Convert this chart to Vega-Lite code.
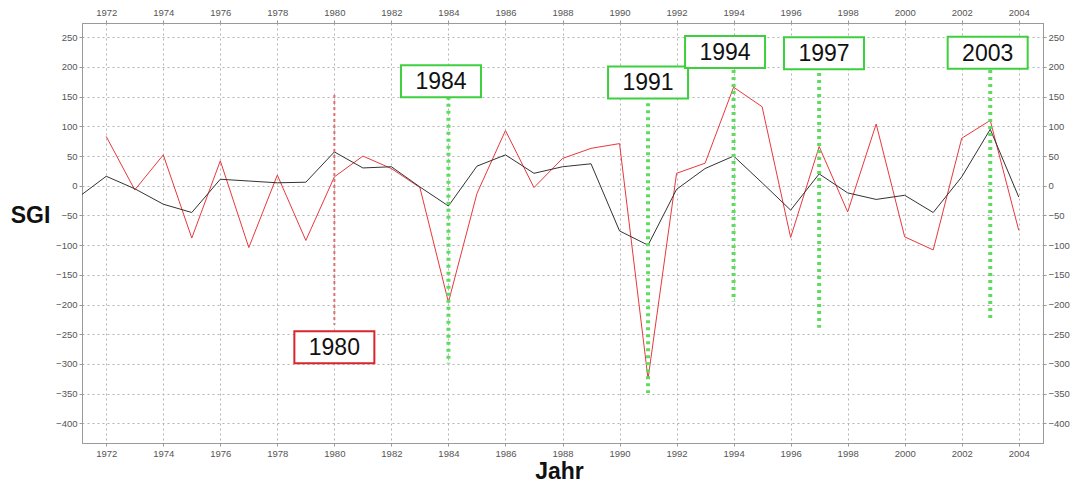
{
  "$schema": "https://vega.github.io/schema/vega-lite/v6.json",
  "width": 961,
  "height": 420,
  "autosize": "none",
  "padding": {"left": 82, "top": 23, "right": 27, "bottom": 40},
  "background": "white",
  "config": {
    "font": "Liberation Sans",
    "view": {"stroke": "#9a9a9a", "strokeWidth": 1},
    "axis": {
      "labelFont": "Liberation Sans",
      "labelFontSize": 9.5,
      "labelColor": "#555555",
      "tickColor": "#9a9a9a",
      "tickSize": 3,
      "domainColor": "#9a9a9a",
      "gridColor": "#b4b4b4",
      "gridDash": [2, 3],
      "gridWidth": 1,
      "titleFont": "Liberation Sans",
      "titleFontSize": 23,
      "titleFontWeight": "bold",
      "titleColor": "#111111"
    }
  },
  "datasets": {
    "reihen": [
      {"Jahr": 1971, "SGI_1": -20, "SGI_2": null},
      {"Jahr": 1972, "SGI_1": 16, "SGI_2": 83},
      {"Jahr": 1973, "SGI_1": -5, "SGI_2": -7},
      {"Jahr": 1974, "SGI_1": -31, "SGI_2": 52},
      {"Jahr": 1975, "SGI_1": -45, "SGI_2": -88},
      {"Jahr": 1976, "SGI_1": 11, "SGI_2": 42},
      {"Jahr": 1977, "SGI_1": 8, "SGI_2": -104},
      {"Jahr": 1978, "SGI_1": 5, "SGI_2": 18},
      {"Jahr": 1979, "SGI_1": 6, "SGI_2": -92},
      {"Jahr": 1980, "SGI_1": 57, "SGI_2": 15},
      {"Jahr": 1981, "SGI_1": 30, "SGI_2": 50},
      {"Jahr": 1982, "SGI_1": 32, "SGI_2": 29},
      {"Jahr": 1983, "SGI_1": -2, "SGI_2": -3},
      {"Jahr": 1984, "SGI_1": -34, "SGI_2": -196},
      {"Jahr": 1985, "SGI_1": 33, "SGI_2": -13},
      {"Jahr": 1986, "SGI_1": 52, "SGI_2": 93},
      {"Jahr": 1987, "SGI_1": 21, "SGI_2": -3},
      {"Jahr": 1988, "SGI_1": 32, "SGI_2": 46},
      {"Jahr": 1989, "SGI_1": 37, "SGI_2": 63},
      {"Jahr": 1990, "SGI_1": -76, "SGI_2": 71},
      {"Jahr": 1991, "SGI_1": -100, "SGI_2": -325},
      {"Jahr": 1992, "SGI_1": -6, "SGI_2": 21},
      {"Jahr": 1993, "SGI_1": 29, "SGI_2": 38},
      {"Jahr": 1994, "SGI_1": 50, "SGI_2": 166},
      {"Jahr": 1995, "SGI_1": 5, "SGI_2": 133},
      {"Jahr": 1996, "SGI_1": -41, "SGI_2": -87},
      {"Jahr": 1997, "SGI_1": 20, "SGI_2": 66},
      {"Jahr": 1998, "SGI_1": -12, "SGI_2": -44},
      {"Jahr": 1999, "SGI_1": -23, "SGI_2": 104},
      {"Jahr": 2000, "SGI_1": -16, "SGI_2": -86},
      {"Jahr": 2001, "SGI_1": -45, "SGI_2": -108},
      {"Jahr": 2002, "SGI_1": 15, "SGI_2": 80},
      {"Jahr": 2003, "SGI_1": 95, "SGI_2": 110},
      {"Jahr": 2004, "SGI_1": -19, "SGI_2": -75}
    ],
    "ereignisse": [
      {"Jahr": 1980, "label": "1980", "von": 153, "bis": -234, "labelJahr": 1980.0, "labelY": -272, "typ": "rot"},
      {"Jahr": 1984, "label": "1984", "von": 150, "bis": -299, "labelJahr": 1983.74, "labelY": 176, "typ": "grün"},
      {"Jahr": 1991, "label": "1991", "von": 139, "bis": -349, "labelJahr": 1991.0, "labelY": 174, "typ": "grün"},
      {"Jahr": 1994, "label": "1994", "von": 195, "bis": -195, "labelJahr": 1993.7, "labelY": 225, "typ": "grün"},
      {"Jahr": 1997, "label": "1997", "von": 190, "bis": -239, "labelJahr": 1997.17, "labelY": 223, "typ": "grün"},
      {"Jahr": 2003, "label": "2003", "von": 195, "bis": -229, "labelJahr": 2002.91, "labelY": 224, "typ": "grün"}
    ]
  },
  "resolve": {"axis": {"x": "independent", "y": "independent"}},
  "layer": [
    {
      "data": {"name": "reihen"},
      "mark": {"type": "line", "color": "#e8383d", "strokeWidth": 1, "clip": true},
      "encoding": {
        "x": {
          "field": "Jahr", "type": "quantitative",
          "scale": {"domain": [1971.15, 2004.85], "nice": false, "zero": false},
          "axis": {
            "orient": "bottom",
            "values": [1972, 1974, 1976, 1978, 1980, 1982, 1984, 1986, 1988, 1990, 1992, 1994, 1996, 1998, 2000, 2002, 2004],
            "format": "d", "grid": true, "labelPadding": 2,
            "title": "Jahr", "titleX": 477, "titleY": 35,
            "titleAlign": "center", "titleBaseline": "alphabetic", "titleAnchor": null
          }
        },
        "y": {
          "field": "SGI_2", "type": "quantitative",
          "scale": {"domain": [-433, 274], "nice": false, "zero": false},
          "axis": {
            "orient": "left",
            "values": [-400, -350, -300, -250, -200, -150, -100, -50, 0, 50, 100, 150, 200, 250],
            "grid": true, "labelPadding": 2,
            "title": "SGI", "titleAngle": 0, "titleX": -52, "titleY": 199,
            "titleAlign": "center", "titleBaseline": "alphabetic", "titleAnchor": null
          }
        }
      }
    },
    {
      "data": {"name": "reihen"},
      "mark": {"type": "line", "color": "#333333", "strokeWidth": 1, "clip": true},
      "encoding": {
        "x": {
          "field": "Jahr", "type": "quantitative",
          "axis": {
            "orient": "top",
            "values": [1972, 1974, 1976, 1978, 1980, 1982, 1984, 1986, 1988, 1990, 1992, 1994, 1996, 1998, 2000, 2002, 2004],
            "format": "d", "grid": false, "labelPadding": 3, "title": null
          }
        },
        "y": {
          "field": "SGI_1", "type": "quantitative",
          "axis": {
            "orient": "right",
            "values": [-400, -350, -300, -250, -200, -150, -100, -50, 0, 50, 100, 150, 200, 250],
            "grid": false, "labelPadding": 2, "title": null
          }
        }
      }
    },
    {
      "data": {"name": "ereignisse"},
      "transform": [{"filter": "datum.typ === 'rot'"}],
      "mark": {"type": "rule", "color": "#e07070", "strokeWidth": 2, "strokeDash": [3, 3]},
      "encoding": {
        "x": {"field": "Jahr", "type": "quantitative", "axis": null},
        "y": {"field": "von", "type": "quantitative", "axis": null},
        "y2": {"field": "bis"}
      }
    },
    {
      "data": {"name": "ereignisse"},
      "transform": [{"filter": "datum.typ === 'grün'"}],
      "mark": {"type": "rule", "color": "#5fdc5f", "strokeWidth": 4, "strokeDash": [3, 4]},
      "encoding": {
        "x": {"field": "Jahr", "type": "quantitative", "axis": null},
        "y": {"field": "von", "type": "quantitative", "axis": null},
        "y2": {"field": "bis"}
      }
    },
    {
      "data": {"name": "ereignisse"},
      "mark": {
        "type": "point",
        "shape": "M-1,-0.4L1,-0.4L1,0.4L-1,0.4Z",
        "size": 6400,
        "filled": false,
        "fill": "white",
        "fillOpacity": 1,
        "strokeWidth": 2,
        "opacity": 1
      },
      "encoding": {
        "x": {"field": "labelJahr", "type": "quantitative", "axis": null},
        "y": {"field": "labelY", "type": "quantitative", "axis": null},
        "stroke": {
          "field": "typ", "type": "nominal",
          "scale": {"domain": ["rot", "grün"], "range": ["#d8262c", "#3ecf3e"]},
          "legend": null
        }
      }
    },
    {
      "data": {"name": "ereignisse"},
      "mark": {"type": "text", "fontSize": 23, "font": "Liberation Sans", "color": "#111111", "align": "center", "baseline": "middle", "dy": 1},
      "encoding": {
        "x": {"field": "labelJahr", "type": "quantitative", "axis": null},
        "y": {"field": "labelY", "type": "quantitative", "axis": null},
        "text": {"field": "label"}
      }
    }
  ]
}
